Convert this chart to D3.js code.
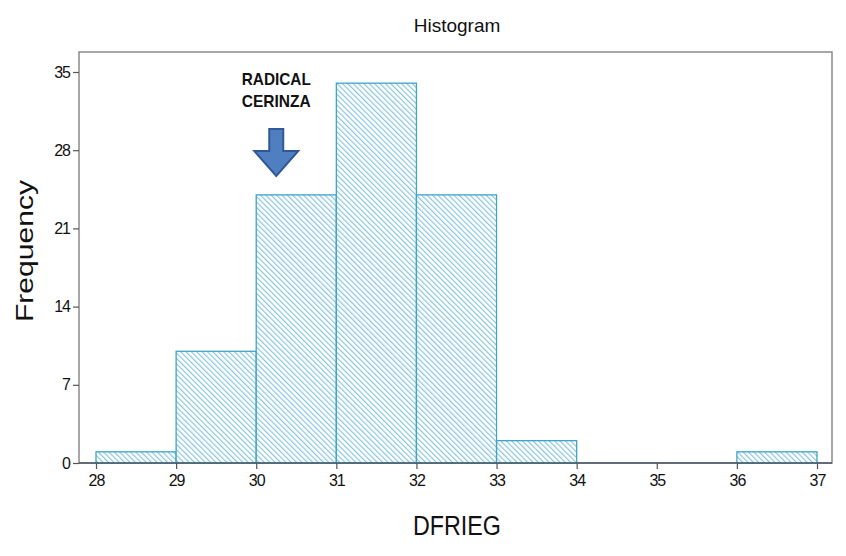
<!DOCTYPE html>
<html>
<head>
<meta charset="utf-8">
<script src="https://cdn.jsdelivr.net/npm/d3@7"></script>
<style>
  html, body { margin: 0; padding: 0; background: #fff; }
  svg { display: block; font-family: "Liberation Sans", Arial, sans-serif; }
</style>
</head>
<body>
<svg id="chart" width="846" height="556"></svg>
<script>
// Histogram of DFRIEG: bin edges and counts
const binStarts = [28, 29, 30, 31, 32, 33, 34, 35, 36];
const binWidth = 1;
const counts = [1, 10, 24, 34, 24, 2, 0, 0, 1];
const xTicks = [28, 29, 30, 31, 32, 33, 34, 35, 36, 37];
const yTicks = [0, 7, 14, 21, 28, 35];
const annotationLines = ["RADICAL", "CERINZA"];
const annotatedValue = 30.25;

const svg = d3.select("#chart");
const frame = { left: 79, right: 832, top: 52, bottom: 463 };

const x = d3.scaleLinear().domain([28, 37]).range([96, 817]);
const y = d3.scaleLinear().domain([0, 35]).range([463, 72]);

// diagonal hatch fill
const defs = svg.append("defs");
const pat = defs.append("pattern")
  .attr("id", "hatch")
  .attr("patternUnits", "userSpaceOnUse")
  .attr("width", 3.8).attr("height", 3.8)
  .attr("patternTransform", "rotate(-45)");
pat.append("rect").attr("width", 3.8).attr("height", 3.8).attr("fill", "#ffffff");
pat.append("line")
  .attr("x1", 0.6).attr("y1", 0).attr("x2", 0.6).attr("y2", 3.8)
  .attr("stroke", "#7fc2da").attr("stroke-width", 1.1);

// plot frame
svg.append("rect")
  .attr("x", frame.left).attr("y", frame.top)
  .attr("width", frame.right - frame.left)
  .attr("height", frame.bottom - frame.top)
  .attr("fill", "none").attr("stroke", "#8a8a8a").attr("stroke-width", 1.5);

// bars
const bins = binStarts.map((s, i) => ({ x0: s, x1: s + binWidth, n: counts[i] }))
  .filter(d => d.n > 0);
svg.append("g").selectAll("rect").data(bins).join("rect")
  .attr("x", d => x(d.x0))
  .attr("y", d => y(d.n))
  .attr("width", d => x(d.x1) - x(d.x0))
  .attr("height", d => y(0) - y(d.n))
  .attr("fill", "url(#hatch)")
  .attr("stroke", "#3fa4c6").attr("stroke-width", 1.3);

// baseline along the bottom of the frame
svg.append("line")
  .attr("x1", frame.left).attr("x2", frame.right)
  .attr("y1", y(0)).attr("y2", y(0))
  .attr("stroke", "#4a5a66").attr("stroke-width", 1.3);

// axes
const xAxis = svg.append("g")
  .attr("transform", `translate(0,${frame.bottom})`)
  .call(d3.axisBottom(x).tickValues(xTicks).tickFormat(d3.format("d")).tickSize(6).tickPadding(6));
const yAxis = svg.append("g")
  .attr("transform", `translate(${frame.left},0)`)
  .call(d3.axisLeft(y).tickValues(yTicks).tickFormat(d3.format("d")).tickSize(6).tickPadding(3));
[xAxis, yAxis].forEach(g => {
  g.select(".domain").remove();
  g.selectAll(".tick line").attr("stroke", "#555").attr("stroke-width", 1.2);
  g.selectAll(".tick text")
    .attr("fill", "#111")
    .style("font-family", "'Liberation Sans', Arial, sans-serif")
    .style("font-size", "16px")
    .style("letter-spacing", "-1px");
});

// titles
svg.append("text")
  .attr("x", 457).attr("y", 32)
  .attr("text-anchor", "middle")
  .style("font-size", "19px").attr("fill", "#111")
  .text("Histogram");

svg.append("text")
  .attr("x", 457).attr("y", 535)
  .attr("text-anchor", "middle")
  .attr("textLength", 88).attr("lengthAdjust", "spacingAndGlyphs")
  .style("font-size", "27px").attr("fill", "#111")
  .text("DFRIEG");

svg.append("text")
  .attr("transform", "translate(33,251) rotate(-90)")
  .attr("text-anchor", "middle")
  .attr("textLength", 142).attr("lengthAdjust", "spacingAndGlyphs")
  .style("font-size", "23px").attr("fill", "#111")
  .text("Frequency");

// annotation with block arrow
const ax = x(annotatedValue);
svg.append("g").selectAll("text").data(annotationLines).join("text")
  .attr("x", ax).attr("y", (d, i) => 85 + i * 22)
  .attr("text-anchor", "middle")
  .attr("textLength", 69).attr("lengthAdjust", "spacingAndGlyphs")
  .style("font-size", "17px").style("font-weight", "bold").attr("fill", "#111")
  .text(d => d);

const arrow = d3.path();
arrow.moveTo(ax - 7, 129);
arrow.lineTo(ax + 7, 129);
arrow.lineTo(ax + 7, 151);
arrow.lineTo(ax + 22, 151);
arrow.lineTo(ax, 176);
arrow.lineTo(ax - 22, 151);
arrow.lineTo(ax - 7, 151);
arrow.closePath();
svg.append("path")
  .attr("d", arrow.toString())
  .attr("fill", "#4f7fc0").attr("stroke", "#2f5a96").attr("stroke-width", 2)
  .attr("stroke-linejoin", "miter");
</script>
</body>
</html>
